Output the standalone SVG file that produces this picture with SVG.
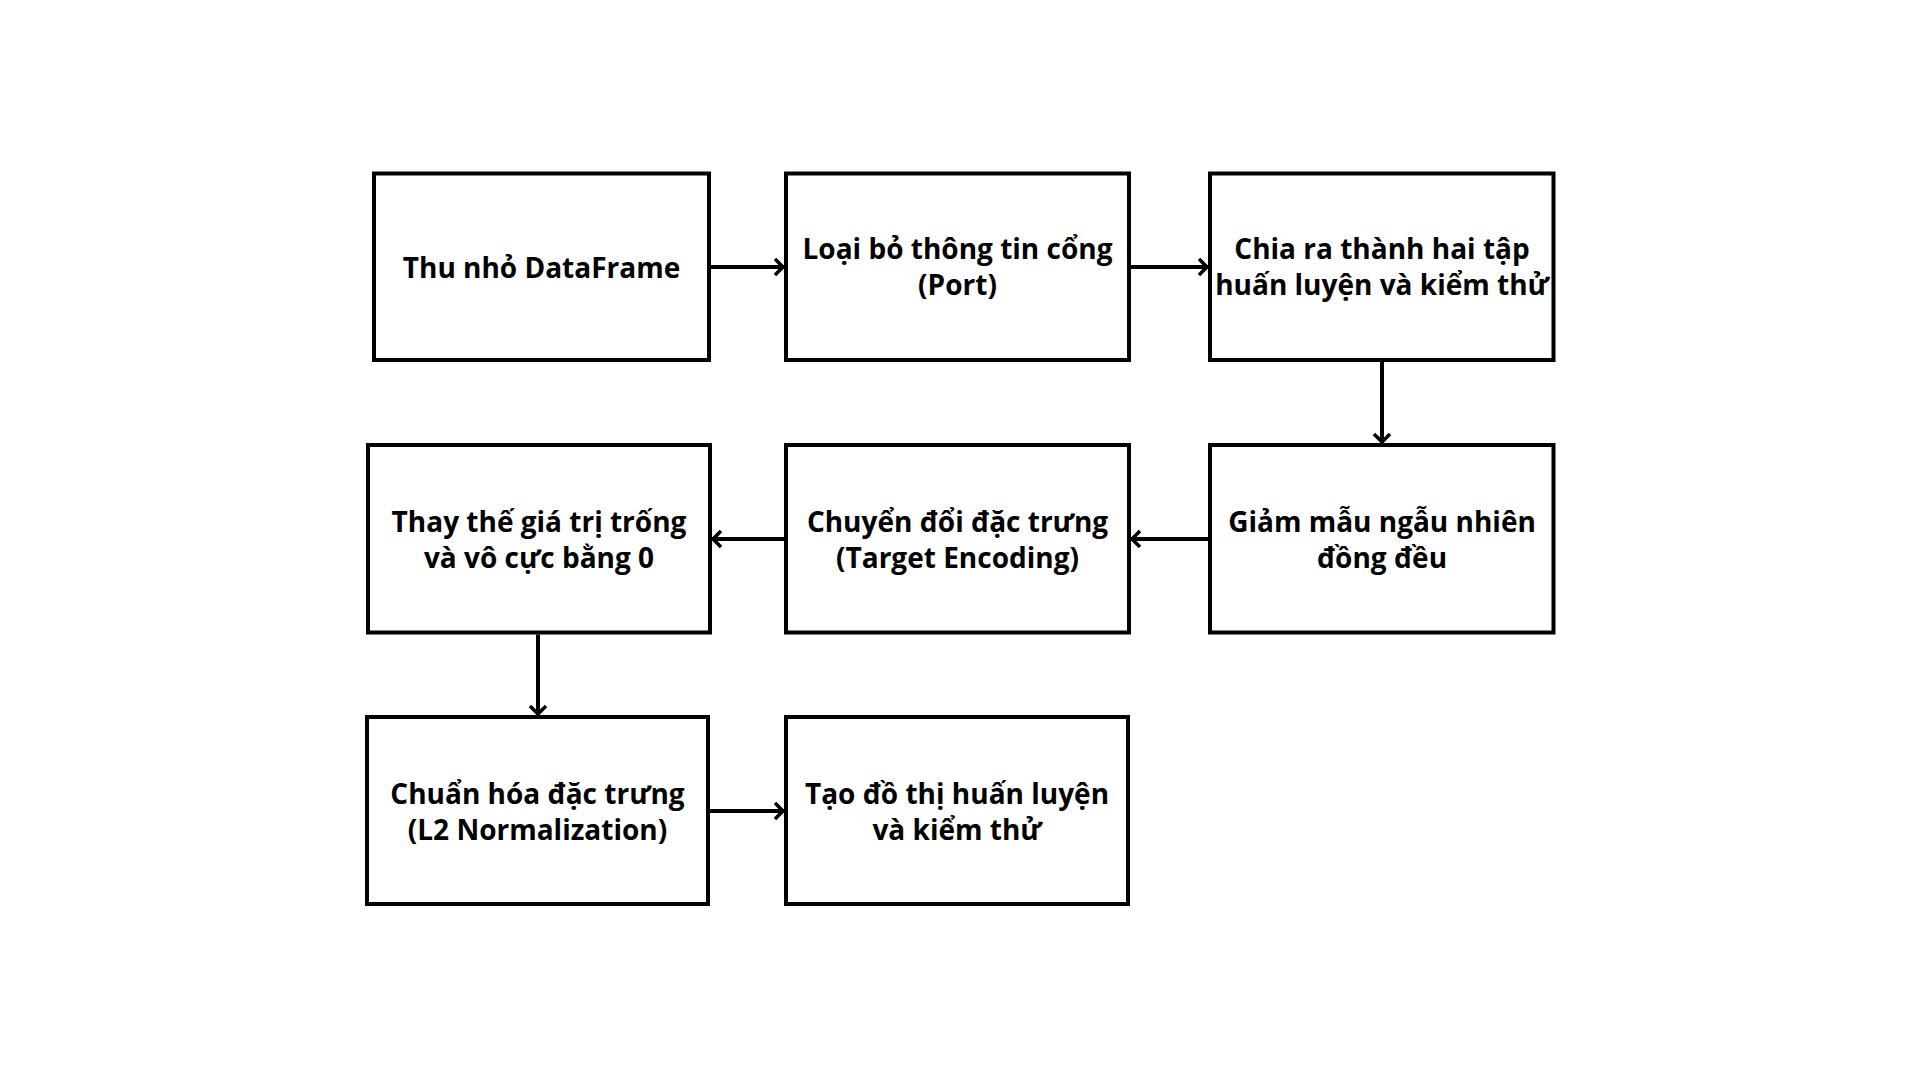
<svg xmlns="http://www.w3.org/2000/svg" width="1920" height="1080" viewBox="0 0 1920 1080">
<style>
.box{fill:#fff;stroke:#000;stroke-width:4}
.lbl{font-family:"Open Sans","DejaVu Sans",sans-serif;font-weight:700;font-size:28px;fill:#000;text-anchor:middle}
.con{fill:none;stroke:#000;stroke-width:4}
</style>
<defs>
<marker id="ah" viewBox="0 0 14 20" refX="12" refY="10" markerWidth="14" markerHeight="20" markerUnits="userSpaceOnUse" orient="auto">
<path d="M3,2 L11,10 L3,18" fill="none" stroke="#000" stroke-width="3.5"/>
</marker>
</defs>
<rect width="1920" height="1080" fill="#fff"/>
<g id="n1"><rect class="box" x="374" y="173.5" width="335" height="186.5"/><text class="lbl" x="541.5" y="278">Thu nhỏ DataFrame</text></g>
<g id="n2"><rect class="box" x="786" y="173.5" width="343" height="186.5"/><text class="lbl" x="957.5" y="259">Loại bỏ thông tin cổng</text><text class="lbl" x="957.5" y="295">(Port)</text></g>
<g id="n3"><rect class="box" x="1210" y="173.5" width="343.5" height="186.5"/><text class="lbl" x="1382" y="259">Chia ra thành hai tập</text><text class="lbl" x="1382" y="295">huấn luyện và kiểm thử</text></g>
<g id="n6"><rect class="box" x="1210" y="445" width="343.5" height="187.5"/><text class="lbl" x="1382" y="532">Giảm mẫu ngẫu nhiên</text><text class="lbl" x="1382" y="568">đồng đều</text></g>
<g id="n5"><rect class="box" x="786" y="445" width="343" height="187.5"/><text class="lbl" x="957.5" y="532">Chuyển đổi đặc trưng</text><text class="lbl" x="957.5" y="568">(Target Encoding)</text></g>
<g id="n4"><rect class="box" x="368" y="445" width="342" height="187.5"/><text class="lbl" x="539" y="532">Thay thế giá trị trống</text><text class="lbl" x="539" y="568">và vô cực bằng 0</text></g>
<g id="n7"><rect class="box" x="367" y="717" width="341" height="187"/><text class="lbl" x="537.5" y="804">Chuẩn hóa đặc trưng</text><text class="lbl" x="537.5" y="840">(L2 Normalization)</text></g>
<g id="n8"><rect class="box" x="786" y="717" width="342" height="187"/><text class="lbl" x="957" y="804">Tạo đồ thị huấn luyện</text><text class="lbl" x="957" y="840">và kiểm thử</text></g>
<g id="connectors">
<line class="con" x1="711" y1="267" x2="784" y2="267" marker-end="url(#ah)"/>
<line class="con" x1="1131" y1="267" x2="1208" y2="267" marker-end="url(#ah)"/>
<line class="con" x1="1382" y1="362" x2="1382" y2="443" marker-end="url(#ah)"/>
<line class="con" x1="1208" y1="539" x2="1131" y2="539" marker-end="url(#ah)"/>
<line class="con" x1="784" y1="539" x2="712" y2="539" marker-end="url(#ah)"/>
<line class="con" x1="538" y1="634.5" x2="538" y2="715" marker-end="url(#ah)"/>
<line class="con" x1="710" y1="811" x2="784" y2="811" marker-end="url(#ah)"/>
</g>
</svg>
